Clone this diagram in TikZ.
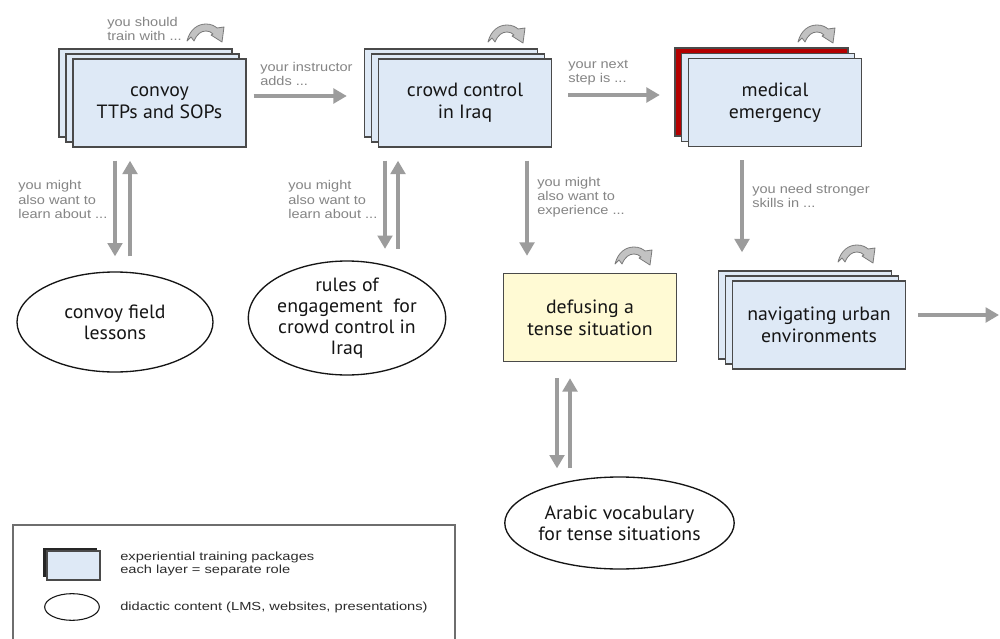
\documentclass[tikz,border=0pt]{standalone}
\usepackage{fontspec}
\usetikzlibrary{calc,arrows.meta,shapes.geometric}
\newfontfamily\boxfont[FakeStretch=1.03]{PT Sans}
\newfontfamily\lblfont[FakeStretch=1.15]{Liberation Sans}
\newfontfamily\keyfont[FakeStretch=1.25]{Liberation Sans}
\definecolor{boxblue}{HTML}{DEE9F6}
\definecolor{boxline}{HTML}{4A4A4A}
\definecolor{boxred}{HTML}{B40000}
\definecolor{boxyellow}{HTML}{FFFAD4}
\definecolor{arrowgray}{HTML}{9C9C9C}
\definecolor{labelgray}{HTML}{858585}
\definecolor{txt}{HTML}{151515}
\definecolor{icongray}{HTML}{C2C2C2}
\definecolor{iconline}{HTML}{7A7A7A}
\tikzset{
  layer/.style={draw=boxline, line width=1.1pt, fill=boxblue,
    minimum width=129.75pt, minimum height=66pt, inner sep=0pt},
  pkg/.style={layer, align=center, text=txt,
    font=\boxfont\fontsize{14.4pt}{16.5pt}\selectfont},
  solo/.style={pkg, fill=boxyellow},
  didactic/.style={ellipse, draw=txt, line width=1pt, fill=white, inner sep=0pt,
    align=center, text=txt, font=\boxfont\fontsize{14.4pt}{15.8pt}\selectfont},
  lbl/.style={anchor=west, inner sep=0pt, align=left, text=labelgray,
    font=\lblfont\fontsize{9.5pt}{10.6pt}\selectfont},
  keytext/.style={anchor=west, inner sep=0pt, align=left, text=txt!90,
    font=\keyfont\fontsize{8.8pt}{9.3pt}\selectfont},
  flow/.style={draw=arrowgray, line width=2.3pt,
    -{Triangle[width=11pt,length=10pt]}},
  turnicon/.pic={
    \filldraw[fill=icongray, draw=iconline, line width=0.6pt, line join=round]
      (0,19) .. controls (3,7) and (11,2) .. (19,2)
      .. controls (24,2) and (28,4) .. (30,6)
      -- (37,5) -- (35,20) -- (24,13) -- (26,12)
      .. controls (24,10) and (22,9) .. (19,9)
      .. controls (14,9) and (10,12) .. (7,19)
      -- (4,15) -- cycle;
  }
}
\begin{document}
\begin{tikzpicture}[x=0.75pt, y=-0.75pt]
\useasboundingbox[fill=white] (0,0) rectangle (1000,639);

% stacked training packages
\node[layer] (convoy-l3) at (145.5,93) {};
\node[layer] (convoy-l2) at (152.5,98) {};
\node[pkg] (convoy) at (159.5,103) {convoy\\TTPs and SOPs};

\node[layer] (crowd-l3) at (451,93) {};
\node[layer] (crowd-l2) at (458,98) {};
\node[pkg] (crowd) at (465,103) {crowd control\\in Iraq};

\node[layer, fill=boxred] (medical-l3) at (761.5,92) {};
\node[layer] (medical-l2) at (768,97.5) {};
\node[pkg] (medical) at (775,102.5) {medical\\emergency};

\node[layer] (nav-l3) at (805,315) {};
\node[layer] (nav-l2) at (812,320) {};
\node[pkg] (nav) at (819,325) {navigating urban\\environments};

\node[solo] (defuse) at (590,317.5) {defusing a\\tense situation};

% role-switch icons
\pic at (187,22) {turnicon};
\pic at (488,23) {turnicon};
\pic at (798,23) {turnicon};
\pic at (615,245) {turnicon};
\pic at (838,243) {turnicon};

% didactic content
\node[didactic, minimum width=147pt, minimum height=75pt] (lessons) at (115,322)
  {convoy field\\lessons};
\node[didactic, minimum width=139pt, minimum height=77pt] (rules) at (347,318)
  {rules of\\engagement\ \ for\\crowd control in\\Iraq};
\node[didactic, minimum width=140pt, minimum height=69pt] (arabic) at (619.5,523)
  {Arabic vocabulary\\for tense situations};

% connectors
\coordinate (exit) at (999,315);
\draw[flow] ($(convoy.east)+(7,-7)$) -- ($(crowd.west)+(-31,-7)$);
\draw[flow] ($(crowd.east)+(16,-8)$) -- ($(medical.west)+(-28,-7.5)$);
\draw[flow] ($(nav.east)+(12,-10)$) -- (exit);

\draw[flow] ($(convoy.south)+(-44.5,13)$) -- ($(lessons.north)+(0,-15)$);
\draw[flow] ($(lessons.north)+(15,-15)$) -- ($(convoy.south)+(-29.5,13)$);

\draw[flow] ($(crowd.south)+(-80,13)$) -- ($(rules.north)+(38,-11.5)$);
\draw[flow] ($(rules.north)+(51,-11.5)$) -- ($(crowd.south)+(-67,13)$);

\draw[flow] ($(crowd.south)+(62,13)$) -- ($(defuse.north)+(-63,-17)$);
\draw[flow] ($(medical.south)+(-33,13)$) -- ($(nav.north)+(-77,-28)$);

\draw[flow] ($(defuse.south)+(-33,16)$) -- ($(arabic.north)+(-62.5,-8)$);
\draw[flow] ($(arabic.north)+(-49.5,-8)$) -- ($(defuse.south)+(-20,16)$);

% connector labels
\node[lbl] (l-train) at (107,29) {you should\\train with ...};
\node[lbl] (l-adds) at (260,74) {your instructor\\adds ...};
\node[lbl] (l-next) at (568,72.5) {your next\\step is ...};
\node[lbl] (l-learn1) at (18,199.5) {you might\\also want to\\learn about ...};
\node[lbl] (l-learn2) at (288,199.5) {you might\\also want to\\learn about ...};
\node[lbl] (l-exp) at (537,197.5) {you might\\also want to\\experience ...};
\node[lbl] (l-skills) at (752,196) {you need stronger\\skills in ...};

% key
\draw[draw=boxline!80, line width=0.8pt] (13,650) -- (13,525) -- (455,525) -- (455,650);
\fill[black!85] (43,548) rectangle (97,577);
\draw[draw=boxline, line width=0.8pt, fill=boxblue] (47,551) rectangle (100,580);
\node[keytext] (k-pkg) at (120,564) {experiential training packages\\each layer = separate role};
\node[ellipse, draw=txt, line width=0.8pt, minimum width=41pt, minimum height=20pt, inner sep=0pt]
  (k-ell) at (72,607) {};
\node[keytext] (k-did) at (120,607) {didactic content (LMS, websites, presentations)};
\end{tikzpicture}
\end{document}
